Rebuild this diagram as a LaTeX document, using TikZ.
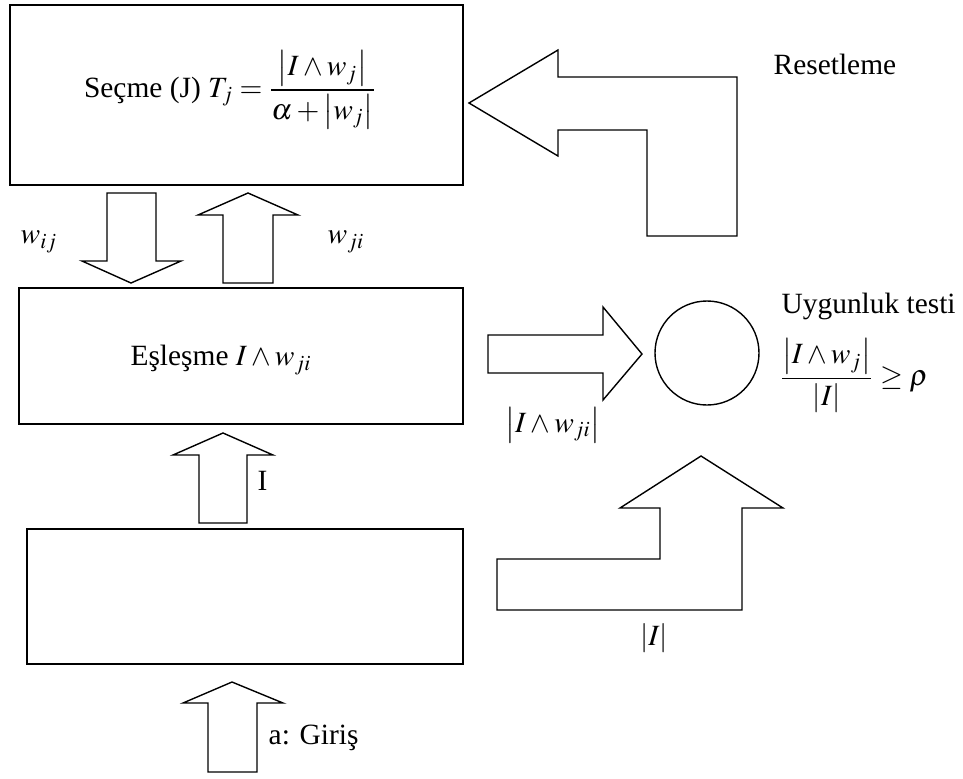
\documentclass[tikz,border=0pt]{standalone}
\usepackage{amsmath}
\usepackage{mathptmx}
\usepackage[no-math]{fontspec}
\setmainfont{Liberation Serif}
\usetikzlibrary{fit}
\begin{document}
\begin{tikzpicture}[x=0.5pt,y=-0.5pt,line width=0.7pt,
  boxnode/.style={draw,inner sep=0pt},
  blk/.style={draw,line join=miter},
  lbl/.style={inner sep=0pt,font=\fontsize{14.7}{17}\selectfont}]
\useasboundingbox (0,0) rectangle (963,778);

% boxes
\node[boxnode,fit={(10,5) (463,185)}] (sel) {};
\node[boxnode,fit={(19,288) (463,424)}] (match) {};
\node[boxnode,fit={(27,529) (463,664)}] (inp) {};
\node[draw,circle,minimum size=52pt,inner sep=0pt] (test) at (707,353) {};

% box texts
\node[lbl] (seltxt) at (230,90) {Seçme (J) $T_j=\dfrac{\left|I\wedge w_j\right|}{\alpha+\left|w_j\right|}$};
\node[lbl] (matchtxt) at (221,360) {Eşleşme $I\wedge w_{ji}$};

% down arrow w_ij
\draw[blk] (107,193) -- (156,193) -- (156,261) -- (181,261) -- (131,283) -- (82,261) -- (107,261) -- cycle;
% up arrow w_ji
\draw[blk] (248,193) -- (298,215) -- (273,215) -- (273,283) -- (223,283) -- (223,215) -- (198,215) -- cycle;
\node[lbl] (wij) at (39,242) {$w_{ij}$};
\node[lbl] (wji) at (346,242) {$w_{ji}$};

% up arrow I
\draw[blk] (223,433) -- (273,455) -- (247,455) -- (247,523) -- (199,523) -- (199,455) -- (173,455) -- cycle;
\node[lbl,anchor=base west] (ilbl) at (257,490) {I};

% input arrow
\draw[blk] (232,682) -- (283,703) -- (257,703) -- (257,772) -- (208,772) -- (208,703) -- (183,703) -- cycle;
\node[lbl,anchor=base west] (giris) at (268,744) {a: Giriş};

% reset arrow
\draw[blk] (469,103) -- (558,50) -- (558,77) -- (737,77) -- (737,236) -- (647,236) -- (647,130) -- (558,130) -- (558,156) -- cycle;
\node[lbl,anchor=base west] (reset) at (773,74) {Resetleme};

% right arrow into test
\draw[blk] (488,335) -- (603,335) -- (603,307) -- (642,354) -- (603,400) -- (603,373) -- (488,373) -- cycle;
\node[lbl] (iwji) at (553,425) {$\left|I\wedge w_{ji}\right|$};

% L arrow up into test
\draw[blk] (701,456) -- (783,508) -- (742,508) -- (742,610) -- (497,610) -- (497,559) -- (660,559) -- (660,508) -- (620,508) -- cycle;
\node[lbl] (absI) at (654,638) {$\left|I\right|$};

% test labels
\node[lbl,anchor=base west] (uyg) at (781,313) {Uygunluk testi};
\node[lbl,anchor=west] (cond) at (779,376) {$\dfrac{\left|I\wedge w_j\right|}{\left|I\right|}\geq\rho$};
\end{tikzpicture}
\end{document}
